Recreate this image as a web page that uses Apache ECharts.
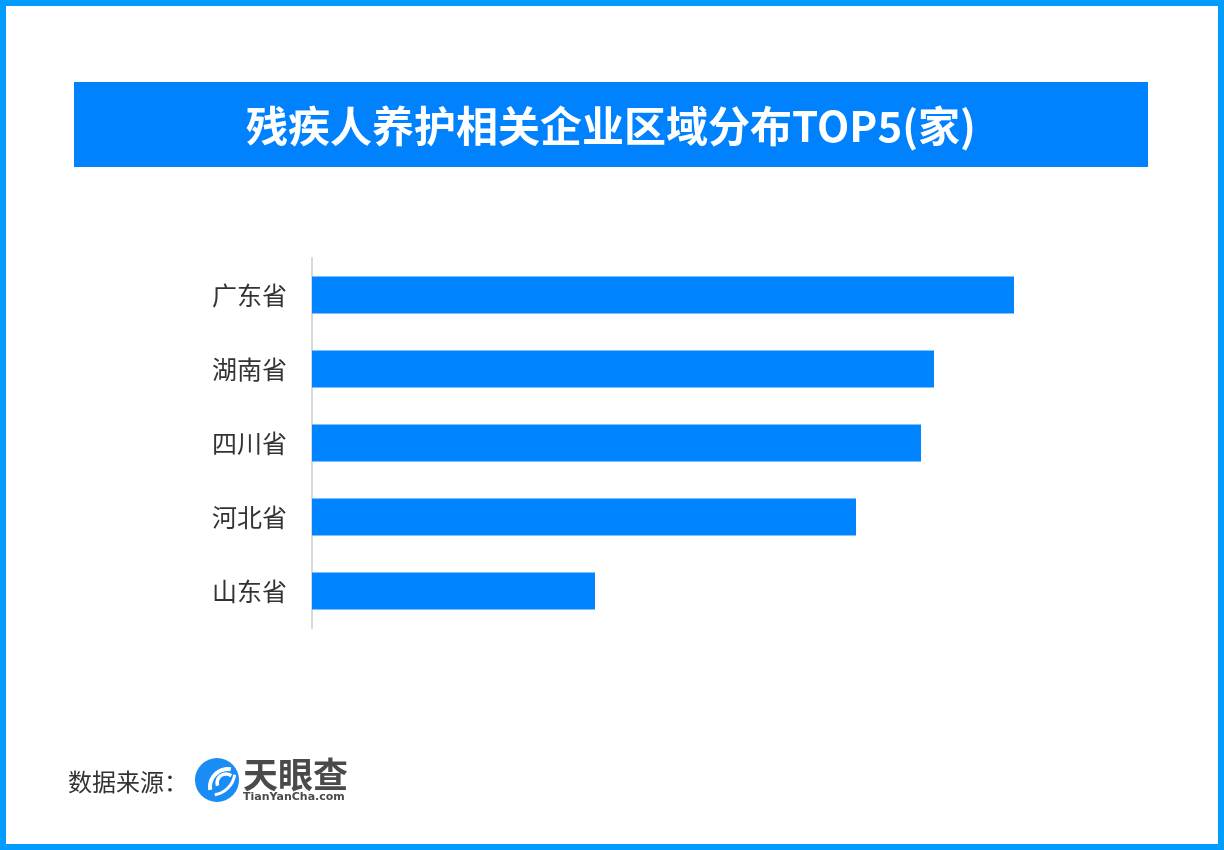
<!DOCTYPE html>
<html><head><meta charset="utf-8">
<script src="https://cdn.jsdelivr.net/npm/echarts@6/dist/echarts.min.js"></script>
<style>html,body{margin:0;padding:0;background:#fff}#c{width:1224px;height:850px}</style>
</head><body><div id="c"></div>
<script>
const categories = ['广东省','湖南省','四川省','河北省','山东省'];
const values = [702, 622, 609, 544, 283];
const titleText = '残疾人养护相关企业区域分布TOP5(家)';
const sourceText = '数据来源：';

const chart = echarts.init(document.getElementById('c'), null, {renderer:'canvas'});
chart.setOption({
  animation:false,
  backgroundColor:'#fff',
  grid:{left:312, right:210, top:258, bottom:222, containLabel:false},
  xAxis:{type:'value', min:0, max:702, show:false},
  yAxis:{type:'category', data:categories, inverse:true,
    axisLine:{show:true, lineStyle:{color:'#d9d9d9', width:2}},
    axisTick:{show:false},
    axisLabel:{color:'#333', fontSize:25, margin:25, fontFamily:'Noto Sans CJK SC', padding:[0,0,9,0]}
  },
  series:[{type:'bar', data:values, barWidth:37, itemStyle:{color:'#0084ff'}, silent:true}],
  graphic:[
    {type:'rect', shape:{x:3,y:3,width:1218,height:844}, style:{fill:'none', stroke:'#009cff', lineWidth:6}},
    {type:'rect', shape:{x:74,y:82,width:1074,height:85}, style:{fill:'#0082ff'}},
    {type:'text', x:611, y:126, style:{text:titleText, fill:'#fff', font:'bold 42px "Noto Sans CJK SC"', textAlign:'center', textVerticalAlign:'middle'}},
    {type:'text', x:68, y:782, style:{text:sourceText, fill:'#333', font:'24px "Noto Sans CJK SC"', textVerticalAlign:'middle'}},
    {type:'circle', shape:{cx:217, cy:780, r:22}, style:{fill:'#1a8cf5'}},
    {type:'arc', shape:{cx:228, cy:787, r:18, startAngle:Math.PI*0.95, endAngle:Math.PI*1.55}, style:{stroke:'#fff', lineWidth:4, fill:'none'}},
    {type:'arc', shape:{cx:226, cy:783, r:9, startAngle:Math.PI*0.9, endAngle:Math.PI*1.7}, style:{stroke:'#fff', lineWidth:3.5, fill:'none'}},
    {type:'arc', shape:{cx:211, cy:771, r:24, startAngle:Math.PI*0.05, endAngle:Math.PI*0.45}, style:{stroke:'#fff', lineWidth:3, fill:'none'}},
    {type:'text', x:243, y:775, style:{text:'天眼查', fill:'#4a4a4a', font:'bold 35px "Noto Sans CJK SC"', textVerticalAlign:'middle'}},
    {type:'text', x:243, y:797, style:{text:'TianYanCha.com', fill:'#4a4a4a', font:'bold 11px "DejaVu Sans"', textVerticalAlign:'middle'}}
  ]
});
</script></body></html>
